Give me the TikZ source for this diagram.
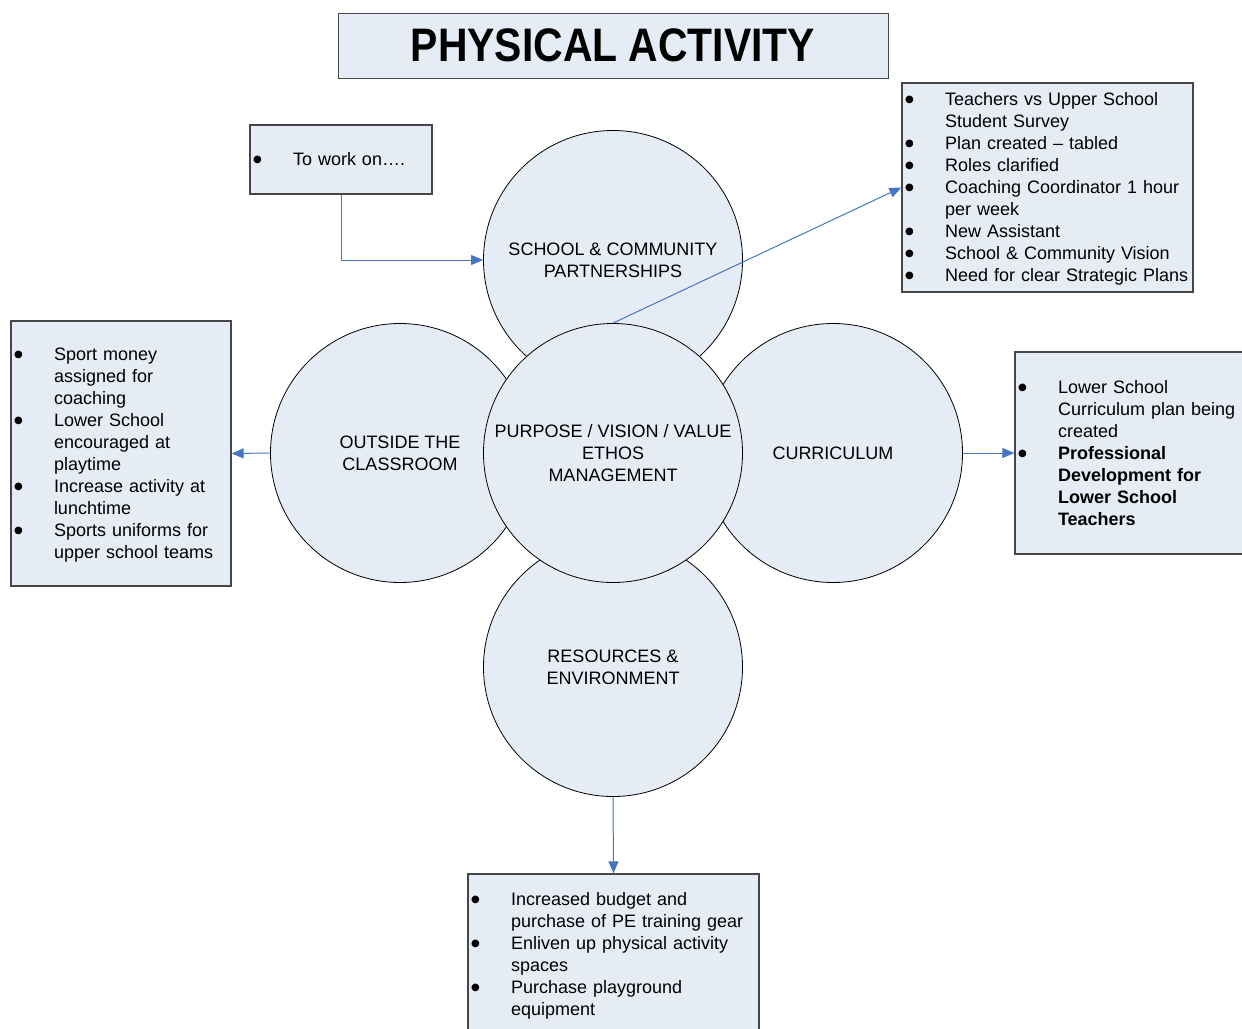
\documentclass[tikz,border=0pt]{standalone}
\usepackage{fontspec}
\setmainfont{Liberation Sans}
\newfontfamily\dotfont{DejaVu Sans}
\usepackage{graphicx}
\usepackage{tikz}
\usetikzlibrary{arrows.meta}
\definecolor{paleblue}{RGB}{230,236,246}
\definecolor{linkblue}{RGB}{70,118,195}
\definecolor{boxgray}{RGB}{70,70,70}
\setlength{\parindent}{0pt}
\newcommand{\bul}{\makebox[40pt][l]{\raisebox{3pt}{\dotfont\fontsize{10}{10}\selectfont ●}}}
\newcommand{\blist}[1]{\raisebox{-2pt}[\height][\depth]{\begin{tabular}{@{}l@{}l@{}}#1\end{tabular}}}

\begin{document}
\begin{tikzpicture}[x=1pt, y=-1pt,
    every node/.style={font=\fontsize{18}{22}\selectfont},
    circ/.style={circle, draw=black, line width=0.8pt, fill=paleblue, minimum size=259pt, inner sep=0pt, align=center},
    listbox/.style={rectangle, draw=boxgray, line width=1.3pt, fill=paleblue, inner xsep=3pt, inner ysep=0pt, align=left},
    link/.style={draw=linkblue, line width=1pt, -{Triangle[length=12pt, width=10pt]}}]
    \useasboundingbox (0,0) rectangle (1242,1028);

    % title
    \node[draw=boxgray, line width=1pt, fill=paleblue, minimum width=550pt, minimum height=65pt] (title) at (613,45.5)
        {\fontsize{47}{50}\selectfont\bfseries\scalebox{0.87}[1]{PHYSICAL ACTIVITY}};

    % circles
    \node[circ] (school) at (613,260) {SCHOOL \& COMMUNITY\\PARTNERSHIPS};
    \node[circ] (outside) at (400,453) {OUTSIDE THE\\CLASSROOM};
    \node[circ] (curric) at (833,453) {CURRICULUM};
    \node[circ] (resource) at (613,667) {RESOURCES \&\\ENVIRONMENT};
    \node[circ] (purpose) at (613,453) {PURPOSE / VISION / VALUE\\ETHOS\\MANAGEMENT};

    % lists
    \node[listbox, text width=176pt, minimum height=69pt] (work) at (341,159.5) {\blist{\bul & To work on….}};
    \node[listbox, text width=285pt, minimum height=209pt] (partlist) at (1047.5,187.5) {\blist{
        \bul & Teachers vs Upper School\\
             & Student Survey\\
        \bul & Plan created -- tabled\\
        \bul & Roles clarified\\
        \bul & Coaching Coordinator 1 hour\\
             & per week\\
        \bul & New Assistant\\
        \bul & School \& Community Vision\\
        \bul & Need for clear Strategic Plans}};
    \node[listbox, text width=214pt, minimum height=265pt] (outlist) at (121,453.5) {\blist{
        \bul & Sport money\\
             & assigned for\\
             & coaching\\
        \bul & Lower School\\
             & encouraged at\\
             & playtime\\
        \bul & Increase activity at\\
             & lunchtime\\
        \bul & Sports uniforms for\\
             & upper school teams}};
    \node[listbox, text width=234pt, minimum height=202pt] (curlist) at (1135,453) {\blist{
        \bul & Lower School\\
             & Curriculum plan being\\
             & created\\
        \bul & \textbf{Professional}\\
             & \textbf{Development for}\\
             & \textbf{Lower School}\\
             & \textbf{Teachers}}};
    \node[listbox, text width=285pt, minimum height=160pt] (reslist) at (613.5,954) {\blist{
        \bul & Increased budget and\\
             & purchase of PE training gear\\
        \bul & Enliven up physical activity\\
             & spaces\\
        \bul & Purchase playground\\
             & equipment}};

    % links
    \draw[link] (work.south) |- (school.west);
    \draw[link] (purpose.north) -- (partlist.west);
    \draw[link] (outside.west) -- (outlist.east);
    \draw[link] (curric.east) -- (curlist.west);
    \draw[link] (resource.south) -- (reslist.north);
\end{tikzpicture}
\end{document}
